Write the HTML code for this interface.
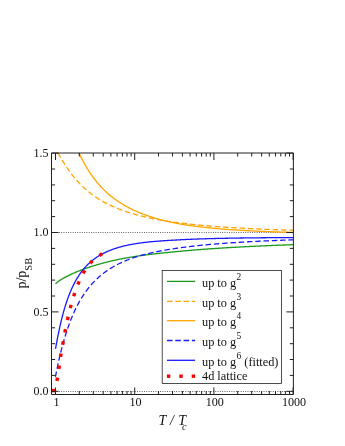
<!DOCTYPE html>
<html><head><meta charset="utf-8"><title>plot</title>
<style>html,body{margin:0;padding:0;background:#fff;}body{width:345px;height:446px;position:relative;overflow:hidden;font-family:"Liberation Serif",serif;}</style></head>
<body>
<svg width="345" height="446" viewBox="0 0 345 446" style="position:absolute;left:0;top:0;will-change:transform">
<defs><clipPath id="c"><rect x="51.5" y="153.0" width="241.9" height="241.5"/></clipPath></defs>
<line x1="52" y1="391.5" x2="293.4" y2="391.5" stroke="#555" stroke-width="1" stroke-dasharray="0.9 1.4"/>
<line x1="52" y1="232.5" x2="293.4" y2="232.5" stroke="#555" stroke-width="1" stroke-dasharray="0.9 1.4"/>
<g clip-path="url(#c)" fill="none" stroke-width="1.3">
<path d="M55.5,283.80 L56.0,283.34 L56.5,282.90 L57.0,282.48 L57.5,282.08 L58.0,281.69 L58.5,281.32 L59.0,280.97 L59.5,280.62 L60.0,280.29 L60.5,279.96 L61.0,279.65 L61.5,279.34 L62.0,279.03 L62.5,278.74 L63.0,278.45 L63.5,278.17 L64.0,277.89 L64.5,277.61 L65.0,277.34 L65.5,277.08 L66.0,276.81 L66.5,276.55 L67.0,276.30 L67.5,276.05 L68.0,275.80 L68.5,275.55 L69.0,275.31 L69.5,275.07 L70.0,274.83 L70.5,274.60 L71.0,274.36 L71.5,274.13 L72.0,273.91 L72.5,273.68 L73.0,273.46 L73.5,273.23 L74.0,273.01 L74.5,272.80 L75.0,272.58 L75.5,272.37 L76.0,272.16 L76.5,271.95 L77.0,271.74 L77.5,271.53 L78.0,271.33 L78.5,271.13 L79.0,270.93 L79.5,270.73 L80.0,270.53 L80.5,270.34 L81.0,270.14 L81.5,269.95 L82.0,269.76 L82.5,269.57 L83.0,269.39 L83.5,269.20 L84.0,269.02 L84.5,268.84 L85.0,268.66 L85.5,268.48 L86.0,268.30 L86.5,268.12 L87.0,267.95 L87.5,267.78 L88.0,267.60 L88.5,267.43 L89.0,267.27 L89.5,267.10 L90.0,266.93 L90.5,266.77 L91.0,266.61 L91.5,266.45 L92.0,266.28 L92.5,266.13 L93.0,265.97 L93.5,265.81 L94.0,265.66 L94.5,265.50 L95.0,265.35 L95.5,265.20 L96.0,265.05 L96.5,264.90 L97.0,264.76 L97.5,264.61 L98.0,264.47 L98.5,264.32 L99.0,264.18 L99.5,264.04 L100.0,263.90 L100.5,263.76 L101.0,263.62 L101.5,263.49 L102.0,263.35 L102.5,263.22 L103.0,263.08 L103.5,262.95 L104.0,262.82 L104.5,262.69 L105.0,262.56 L105.5,262.43 L106.0,262.30 L106.5,262.18 L107.0,262.05 L107.5,261.93 L108.0,261.81 L108.5,261.68 L109.0,261.56 L109.5,261.44 L110.0,261.32 L110.5,261.21 L111.0,261.09 L111.5,260.97 L112.0,260.86 L112.5,260.74 L113.0,260.63 L113.5,260.52 L114.0,260.41 L114.5,260.29 L115.0,260.18 L115.5,260.07 L116.0,259.97 L116.5,259.86 L117.0,259.75 L117.5,259.65 L118.0,259.54 L118.5,259.44 L119.0,259.33 L119.5,259.23 L120.0,259.13 L120.5,259.03 L121.0,258.93 L121.5,258.83 L122.0,258.73 L122.5,258.63 L123.0,258.53 L123.5,258.44 L124.0,258.34 L124.5,258.25 L125.0,258.16 L125.5,258.07 L126.0,257.97 L126.5,257.88 L127.0,257.79 L127.5,257.71 L128.0,257.62 L128.5,257.53 L129.0,257.44 L129.5,257.36 L130.0,257.27 L130.5,257.19 L131.0,257.11 L131.5,257.02 L132.0,256.94 L132.5,256.86 L133.0,256.78 L133.5,256.70 L134.0,256.62 L134.5,256.54 L135.0,256.47 L135.5,256.39 L136.0,256.31 L136.5,256.24 L137.0,256.16 L137.5,256.09 L138.0,256.01 L138.5,255.94 L139.0,255.87 L139.5,255.80 L140.0,255.73 L140.5,255.65 L141.0,255.58 L141.5,255.51 L142.0,255.45 L142.5,255.38 L143.0,255.31 L143.5,255.24 L144.0,255.18 L144.5,255.11 L145.0,255.04 L145.5,254.98 L146.0,254.91 L146.5,254.85 L147.0,254.78 L147.5,254.72 L148.0,254.66 L148.5,254.60 L149.0,254.53 L149.5,254.47 L150.0,254.41 L150.5,254.35 L151.0,254.29 L151.5,254.23 L152.0,254.17 L152.5,254.11 L153.0,254.05 L153.5,253.99 L154.0,253.94 L154.5,253.88 L155.0,253.82 L155.5,253.76 L156.0,253.71 L156.5,253.65 L157.0,253.60 L157.5,253.54 L158.0,253.49 L158.5,253.43 L159.0,253.38 L159.5,253.32 L160.0,253.27 L160.5,253.21 L161.0,253.16 L161.5,253.11 L162.0,253.05 L162.5,253.00 L163.0,252.95 L163.5,252.90 L164.0,252.85 L164.5,252.79 L165.0,252.74 L165.5,252.69 L166.0,252.64 L166.5,252.59 L167.0,252.54 L167.5,252.49 L168.0,252.44 L168.5,252.39 L169.0,252.34 L169.5,252.29 L170.0,252.24 L170.5,252.19 L171.0,252.14 L171.5,252.09 L172.0,252.04 L172.5,252.00 L173.0,251.95 L173.5,251.90 L174.0,251.85 L174.5,251.80 L175.0,251.75 L175.5,251.71 L176.0,251.66 L176.5,251.61 L177.0,251.56 L177.5,251.51 L178.0,251.47 L178.5,251.42 L179.0,251.37 L179.5,251.32 L180.0,251.28 L180.5,251.23 L181.0,251.18 L181.5,251.14 L182.0,251.09 L182.5,251.04 L183.0,251.00 L183.5,250.95 L184.0,250.91 L184.5,250.86 L185.0,250.82 L185.5,250.77 L186.0,250.73 L186.5,250.68 L187.0,250.64 L187.5,250.60 L188.0,250.55 L188.5,250.51 L189.0,250.47 L189.5,250.42 L190.0,250.38 L190.5,250.34 L191.0,250.30 L191.5,250.25 L192.0,250.21 L192.5,250.17 L193.0,250.13 L193.5,250.09 L194.0,250.05 L194.5,250.01 L195.0,249.97 L195.5,249.93 L196.0,249.89 L196.5,249.85 L197.0,249.81 L197.5,249.77 L198.0,249.73 L198.5,249.69 L199.0,249.65 L199.5,249.61 L200.0,249.57 L200.5,249.53 L201.0,249.49 L201.5,249.46 L202.0,249.42 L202.5,249.38 L203.0,249.34 L203.5,249.31 L204.0,249.27 L204.5,249.23 L205.0,249.20 L205.5,249.16 L206.0,249.12 L206.5,249.09 L207.0,249.05 L207.5,249.01 L208.0,248.98 L208.5,248.94 L209.0,248.91 L209.5,248.87 L210.0,248.84 L210.5,248.80 L211.0,248.77 L211.5,248.73 L212.0,248.70 L212.5,248.67 L213.0,248.63 L213.5,248.60 L214.0,248.56 L214.5,248.53 L215.0,248.50 L215.5,248.46 L216.0,248.43 L216.5,248.40 L217.0,248.36 L217.5,248.33 L218.0,248.30 L218.5,248.27 L219.0,248.23 L219.5,248.20 L220.0,248.17 L220.5,248.14 L221.0,248.11 L221.5,248.08 L222.0,248.04 L222.5,248.01 L223.0,247.98 L223.5,247.95 L224.0,247.92 L224.5,247.89 L225.0,247.86 L225.5,247.83 L226.0,247.80 L226.5,247.77 L227.0,247.74 L227.5,247.71 L228.0,247.68 L228.5,247.65 L229.0,247.62 L229.5,247.59 L230.0,247.56 L230.5,247.53 L231.0,247.50 L231.5,247.47 L232.0,247.44 L232.5,247.42 L233.0,247.39 L233.5,247.36 L234.0,247.33 L234.5,247.30 L235.0,247.27 L235.5,247.25 L236.0,247.22 L236.5,247.19 L237.0,247.16 L237.5,247.14 L238.0,247.11 L238.5,247.08 L239.0,247.05 L239.5,247.03 L240.0,247.00 L240.5,246.97 L241.0,246.95 L241.5,246.92 L242.0,246.89 L242.5,246.87 L243.0,246.84 L243.5,246.82 L244.0,246.79 L244.5,246.76 L245.0,246.74 L245.5,246.71 L246.0,246.69 L246.5,246.66 L247.0,246.64 L247.5,246.61 L248.0,246.59 L248.5,246.56 L249.0,246.54 L249.5,246.51 L250.0,246.49 L250.5,246.46 L251.0,246.44 L251.5,246.41 L252.0,246.39 L252.5,246.36 L253.0,246.34 L253.5,246.31 L254.0,246.29 L254.5,246.27 L255.0,246.24 L255.5,246.22 L256.0,246.20 L256.5,246.17 L257.0,246.15 L257.5,246.13 L258.0,246.10 L258.5,246.08 L259.0,246.06 L259.5,246.03 L260.0,246.01 L260.5,245.99 L261.0,245.96 L261.5,245.94 L262.0,245.92 L262.5,245.90 L263.0,245.87 L263.5,245.85 L264.0,245.83 L264.5,245.81 L265.0,245.79 L265.5,245.76 L266.0,245.74 L266.5,245.72 L267.0,245.70 L267.5,245.68 L268.0,245.65 L268.5,245.63 L269.0,245.61 L269.5,245.59 L270.0,245.57 L270.5,245.55 L271.0,245.53 L271.5,245.51 L272.0,245.48 L272.5,245.46 L273.0,245.44 L273.5,245.42 L274.0,245.40 L274.5,245.38 L275.0,245.36 L275.5,245.34 L276.0,245.32 L276.5,245.30 L277.0,245.28 L277.5,245.26 L278.0,245.24 L278.5,245.22 L279.0,245.20 L279.5,245.18 L280.0,245.16 L280.5,245.14 L281.0,245.12 L281.5,245.10 L282.0,245.08 L282.5,245.06 L283.0,245.04 L283.5,245.02 L284.0,245.00 L284.5,244.98 L285.0,244.97 L285.5,244.95 L286.0,244.93 L286.5,244.91 L287.0,244.89 L287.5,244.87 L288.0,244.85 L288.5,244.83 L289.0,244.82 L289.5,244.80 L290.0,244.78 L290.5,244.76 L291.0,244.74 L291.5,244.72 L292.0,244.71 L292.5,244.69 L293.0,244.67" stroke="#1a9a1a"/>
<path d="M57.0,150.79 L57.5,151.74 L58.0,152.68 L58.5,153.61 L59.0,154.53 L59.5,155.44 L60.0,156.34 L60.5,157.22 L61.0,158.10 L61.5,158.96 L62.0,159.82 L62.5,160.66 L63.0,161.49 L63.5,162.31 L64.0,163.12 L64.5,163.92 L65.0,164.71 L65.5,165.48 L66.0,166.25 L66.5,167.01 L67.0,167.75 L67.5,168.49 L68.0,169.21 L68.5,169.93 L69.0,170.64 L69.5,171.33 L70.0,172.02 L70.5,172.69 L71.0,173.36 L71.5,174.02 L72.0,174.67 L72.5,175.30 L73.0,175.94 L73.5,176.56 L74.0,177.17 L74.5,177.77 L75.0,178.37 L75.5,178.96 L76.0,179.54 L76.5,180.11 L77.0,180.67 L77.5,181.23 L78.0,181.77 L78.5,182.31 L79.0,182.85 L79.5,183.37 L80.0,183.89 L80.5,184.40 L81.0,184.90 L81.5,185.40 L82.0,185.89 L82.5,186.37 L83.0,186.85 L83.5,187.32 L84.0,187.78 L84.5,188.24 L85.0,188.69 L85.5,189.14 L86.0,189.58 L86.5,190.01 L87.0,190.44 L87.5,190.86 L88.0,191.28 L88.5,191.69 L89.0,192.09 L89.5,192.49 L90.0,192.89 L90.5,193.28 L91.0,193.66 L91.5,194.04 L92.0,194.41 L92.5,194.78 L93.0,195.15 L93.5,195.51 L94.0,195.86 L94.5,196.21 L95.0,196.56 L95.5,196.90 L96.0,197.24 L96.5,197.57 L97.0,197.90 L97.5,198.23 L98.0,198.55 L98.5,198.87 L99.0,199.18 L99.5,199.49 L100.0,199.79 L100.5,200.09 L101.0,200.39 L101.5,200.69 L102.0,200.98 L102.5,201.26 L103.0,201.55 L103.5,201.83 L104.0,202.10 L104.5,202.38 L105.0,202.65 L105.5,202.91 L106.0,203.18 L106.5,203.44 L107.0,203.70 L107.5,203.95 L108.0,204.20 L108.5,204.45 L109.0,204.70 L109.5,204.94 L110.0,205.18 L110.5,205.41 L111.0,205.65 L111.5,205.88 L112.0,206.11 L112.5,206.34 L113.0,206.56 L113.5,206.78 L114.0,207.00 L114.5,207.22 L115.0,207.43 L115.5,207.64 L116.0,207.85 L116.5,208.06 L117.0,208.26 L117.5,208.46 L118.0,208.66 L118.5,208.86 L119.0,209.06 L119.5,209.25 L120.0,209.44 L120.5,209.63 L121.0,209.82 L121.5,210.00 L122.0,210.19 L122.5,210.37 L123.0,210.55 L123.5,210.73 L124.0,210.90 L124.5,211.08 L125.0,211.25 L125.5,211.42 L126.0,211.59 L126.5,211.75 L127.0,211.92 L127.5,212.08 L128.0,212.24 L128.5,212.41 L129.0,212.56 L129.5,212.72 L130.0,212.88 L130.5,213.03 L131.0,213.18 L131.5,213.33 L132.0,213.48 L132.5,213.63 L133.0,213.78 L133.5,213.92 L134.0,214.07 L134.5,214.21 L135.0,214.35 L135.5,214.49 L136.0,214.63 L136.5,214.76 L137.0,214.90 L137.5,215.03 L138.0,215.17 L138.5,215.30 L139.0,215.43 L139.5,215.56 L140.0,215.69 L140.5,215.81 L141.0,215.94 L141.5,216.06 L142.0,216.19 L142.5,216.31 L143.0,216.43 L143.5,216.55 L144.0,216.67 L144.5,216.78 L145.0,216.90 L145.5,217.02 L146.0,217.13 L146.5,217.24 L147.0,217.36 L147.5,217.47 L148.0,217.58 L148.5,217.69 L149.0,217.80 L149.5,217.90 L150.0,218.01 L150.5,218.12 L151.0,218.22 L151.5,218.32 L152.0,218.43 L152.5,218.53 L153.0,218.63 L153.5,218.73 L154.0,218.83 L154.5,218.93 L155.0,219.02 L155.5,219.12 L156.0,219.21 L156.5,219.31 L157.0,219.40 L157.5,219.50 L158.0,219.59 L158.5,219.68 L159.0,219.77 L159.5,219.86 L160.0,219.95 L160.5,220.04 L161.0,220.13 L161.5,220.21 L162.0,220.30 L162.5,220.38 L163.0,220.47 L163.5,220.55 L164.0,220.64 L164.5,220.72 L165.0,220.80 L165.5,220.88 L166.0,220.96 L166.5,221.04 L167.0,221.12 L167.5,221.20 L168.0,221.28 L168.5,221.35 L169.0,221.43 L169.5,221.51 L170.0,221.58 L170.5,221.66 L171.0,221.73 L171.5,221.80 L172.0,221.88 L172.5,221.95 L173.0,222.02 L173.5,222.09 L174.0,222.16 L174.5,222.23 L175.0,222.30 L175.5,222.37 L176.0,222.44 L176.5,222.50 L177.0,222.57 L177.5,222.64 L178.0,222.70 L178.5,222.77 L179.0,222.83 L179.5,222.90 L180.0,222.96 L180.5,223.02 L181.0,223.08 L181.5,223.15 L182.0,223.21 L182.5,223.27 L183.0,223.33 L183.5,223.39 L184.0,223.45 L184.5,223.51 L185.0,223.57 L185.5,223.63 L186.0,223.68 L186.5,223.74 L187.0,223.80 L187.5,223.85 L188.0,223.91 L188.5,223.97 L189.0,224.02 L189.5,224.08 L190.0,224.13 L190.5,224.18 L191.0,224.24 L191.5,224.29 L192.0,224.34 L192.5,224.40 L193.0,224.45 L193.5,224.50 L194.0,224.55 L194.5,224.60 L195.0,224.65 L195.5,224.70 L196.0,224.75 L196.5,224.80 L197.0,224.85 L197.5,224.90 L198.0,224.95 L198.5,225.00 L199.0,225.05 L199.5,225.09 L200.0,225.14 L200.5,225.19 L201.0,225.23 L201.5,225.28 L202.0,225.33 L202.5,225.37 L203.0,225.42 L203.5,225.46 L204.0,225.51 L204.5,225.55 L205.0,225.60 L205.5,225.64 L206.0,225.68 L206.5,225.73 L207.0,225.77 L207.5,225.81 L208.0,225.85 L208.5,225.89 L209.0,225.94 L209.5,225.98 L210.0,226.02 L210.5,226.06 L211.0,226.10 L211.5,226.14 L212.0,226.18 L212.5,226.22 L213.0,226.26 L213.5,226.30 L214.0,226.34 L214.5,226.38 L215.0,226.41 L215.5,226.45 L216.0,226.49 L216.5,226.53 L217.0,226.57 L217.5,226.60 L218.0,226.64 L218.5,226.68 L219.0,226.71 L219.5,226.75 L220.0,226.78 L220.5,226.82 L221.0,226.86 L221.5,226.89 L222.0,226.93 L222.5,226.96 L223.0,227.00 L223.5,227.03 L224.0,227.06 L224.5,227.10 L225.0,227.13 L225.5,227.17 L226.0,227.20 L226.5,227.23 L227.0,227.26 L227.5,227.30 L228.0,227.33 L228.5,227.36 L229.0,227.39 L229.5,227.43 L230.0,227.46 L230.5,227.49 L231.0,227.52 L231.5,227.55 L232.0,227.58 L232.5,227.61 L233.0,227.64 L233.5,227.67 L234.0,227.70 L234.5,227.73 L235.0,227.76 L235.5,227.79 L236.0,227.82 L236.5,227.85 L237.0,227.88 L237.5,227.91 L238.0,227.94 L238.5,227.97 L239.0,228.00 L239.5,228.02 L240.0,228.05 L240.5,228.08 L241.0,228.11 L241.5,228.13 L242.0,228.16 L242.5,228.19 L243.0,228.22 L243.5,228.24 L244.0,228.27 L244.5,228.30 L245.0,228.32 L245.5,228.35 L246.0,228.37 L246.5,228.40 L247.0,228.43 L247.5,228.45 L248.0,228.48 L248.5,228.50 L249.0,228.53 L249.5,228.55 L250.0,228.58 L250.5,228.60 L251.0,228.63 L251.5,228.65 L252.0,228.68 L252.5,228.70 L253.0,228.72 L253.5,228.75 L254.0,228.77 L254.5,228.80 L255.0,228.82 L255.5,228.84 L256.0,228.87 L256.5,228.89 L257.0,228.91 L257.5,228.94 L258.0,228.96 L258.5,228.98 L259.0,229.00 L259.5,229.03 L260.0,229.05 L260.5,229.07 L261.0,229.09 L261.5,229.11 L262.0,229.14 L262.5,229.16 L263.0,229.18 L263.5,229.20 L264.0,229.22 L264.5,229.24 L265.0,229.26 L265.5,229.28 L266.0,229.31 L266.5,229.33 L267.0,229.35 L267.5,229.37 L268.0,229.39 L268.5,229.41 L269.0,229.43 L269.5,229.45 L270.0,229.47 L270.5,229.49 L271.0,229.51 L271.5,229.53 L272.0,229.55 L272.5,229.57 L273.0,229.59 L273.5,229.60 L274.0,229.62 L274.5,229.64 L275.0,229.66 L275.5,229.68 L276.0,229.70 L276.5,229.72 L277.0,229.74 L277.5,229.75 L278.0,229.77 L278.5,229.79 L279.0,229.81 L279.5,229.83 L280.0,229.85 L280.5,229.86 L281.0,229.88 L281.5,229.90 L282.0,229.92 L282.5,229.93 L283.0,229.95 L283.5,229.97 L284.0,229.99 L284.5,230.00 L285.0,230.02 L285.5,230.04 L286.0,230.05 L286.5,230.07 L287.0,230.09 L287.5,230.10 L288.0,230.12 L288.5,230.14 L289.0,230.15 L289.5,230.17 L290.0,230.19 L290.5,230.20 L291.0,230.22 L291.5,230.23 L292.0,230.25 L292.5,230.26 L293.0,230.28" stroke="#ffa500" stroke-dasharray="5.5 2.8" stroke-dashoffset="6.08"/>
<path d="M78.0,150.73 L78.5,151.84 L79.0,152.94 L79.5,154.01 L80.0,155.07 L80.5,156.10 L81.0,157.12 L81.5,158.13 L82.0,159.11 L82.5,160.08 L83.0,161.03 L83.5,161.97 L84.0,162.89 L84.5,163.79 L85.0,164.68 L85.5,165.56 L86.0,166.42 L86.5,167.26 L87.0,168.10 L87.5,168.92 L88.0,169.72 L88.5,170.51 L89.0,171.30 L89.5,172.06 L90.0,172.82 L90.5,173.56 L91.0,174.29 L91.5,175.02 L92.0,175.72 L92.5,176.42 L93.0,177.11 L93.5,177.79 L94.0,178.45 L94.5,179.11 L95.0,179.76 L95.5,180.39 L96.0,181.02 L96.5,181.64 L97.0,182.25 L97.5,182.85 L98.0,183.44 L98.5,184.02 L99.0,184.59 L99.5,185.16 L100.0,185.71 L100.5,186.26 L101.0,186.80 L101.5,187.33 L102.0,187.86 L102.5,188.38 L103.0,188.88 L103.5,189.39 L104.0,189.88 L104.5,190.37 L105.0,190.85 L105.5,191.33 L106.0,191.80 L106.5,192.26 L107.0,192.71 L107.5,193.16 L108.0,193.61 L108.5,194.04 L109.0,194.47 L109.5,194.90 L110.0,195.32 L110.5,195.73 L111.0,196.14 L111.5,196.54 L112.0,196.94 L112.5,197.33 L113.0,197.72 L113.5,198.10 L114.0,198.47 L114.5,198.84 L115.0,199.21 L115.5,199.57 L116.0,199.93 L116.5,200.28 L117.0,200.63 L117.5,200.97 L118.0,201.31 L118.5,201.65 L119.0,201.98 L119.5,202.30 L120.0,202.62 L120.5,202.94 L121.0,203.26 L121.5,203.57 L122.0,203.87 L122.5,204.18 L123.0,204.48 L123.5,204.77 L124.0,205.06 L124.5,205.35 L125.0,205.64 L125.5,205.92 L126.0,206.20 L126.5,206.48 L127.0,206.75 L127.5,207.02 L128.0,207.29 L128.5,207.55 L129.0,207.81 L129.5,208.07 L130.0,208.33 L130.5,208.58 L131.0,208.83 L131.5,209.08 L132.0,209.32 L132.5,209.56 L133.0,209.80 L133.5,210.04 L134.0,210.27 L134.5,210.50 L135.0,210.73 L135.5,210.96 L136.0,211.18 L136.5,211.40 L137.0,211.62 L137.5,211.84 L138.0,212.05 L138.5,212.26 L139.0,212.47 L139.5,212.68 L140.0,212.89 L140.5,213.09 L141.0,213.29 L141.5,213.49 L142.0,213.69 L142.5,213.88 L143.0,214.07 L143.5,214.26 L144.0,214.45 L144.5,214.64 L145.0,214.83 L145.5,215.01 L146.0,215.19 L146.5,215.37 L147.0,215.55 L147.5,215.72 L148.0,215.90 L148.5,216.07 L149.0,216.24 L149.5,216.41 L150.0,216.57 L150.5,216.74 L151.0,216.90 L151.5,217.06 L152.0,217.22 L152.5,217.38 L153.0,217.54 L153.5,217.69 L154.0,217.85 L154.5,218.00 L155.0,218.15 L155.5,218.30 L156.0,218.44 L156.5,218.59 L157.0,218.73 L157.5,218.88 L158.0,219.02 L158.5,219.16 L159.0,219.30 L159.5,219.43 L160.0,219.57 L160.5,219.70 L161.0,219.84 L161.5,219.97 L162.0,220.10 L162.5,220.23 L163.0,220.35 L163.5,220.48 L164.0,220.60 L164.5,220.73 L165.0,220.85 L165.5,220.97 L166.0,221.09 L166.5,221.21 L167.0,221.32 L167.5,221.44 L168.0,221.55 L168.5,221.67 L169.0,221.78 L169.5,221.89 L170.0,222.00 L170.5,222.11 L171.0,222.21 L171.5,222.32 L172.0,222.42 L172.5,222.53 L173.0,222.63 L173.5,222.73 L174.0,222.83 L174.5,222.93 L175.0,223.03 L175.5,223.12 L176.0,223.22 L176.5,223.31 L177.0,223.41 L177.5,223.50 L178.0,223.59 L178.5,223.68 L179.0,223.77 L179.5,223.86 L180.0,223.94 L180.5,224.03 L181.0,224.11 L181.5,224.20 L182.0,224.28 L182.5,224.36 L183.0,224.45 L183.5,224.53 L184.0,224.61 L184.5,224.69 L185.0,224.77 L185.5,224.84 L186.0,224.92 L186.5,225.00 L187.0,225.07 L187.5,225.15 L188.0,225.22 L188.5,225.30 L189.0,225.37 L189.5,225.44 L190.0,225.51 L190.5,225.58 L191.0,225.66 L191.5,225.72 L192.0,225.79 L192.5,225.86 L193.0,225.93 L193.5,226.00 L194.0,226.06 L194.5,226.13 L195.0,226.20 L195.5,226.26 L196.0,226.32 L196.5,226.39 L197.0,226.45 L197.5,226.51 L198.0,226.58 L198.5,226.64 L199.0,226.70 L199.5,226.76 L200.0,226.82 L200.5,226.88 L201.0,226.94 L201.5,226.99 L202.0,227.05 L202.5,227.11 L203.0,227.17 L203.5,227.22 L204.0,227.28 L204.5,227.33 L205.0,227.39 L205.5,227.44 L206.0,227.50 L206.5,227.55 L207.0,227.60 L207.5,227.65 L208.0,227.71 L208.5,227.76 L209.0,227.81 L209.5,227.86 L210.0,227.91 L210.5,227.96 L211.0,228.01 L211.5,228.06 L212.0,228.11 L212.5,228.15 L213.0,228.20 L213.5,228.25 L214.0,228.29 L214.5,228.34 L215.0,228.39 L215.5,228.43 L216.0,228.48 L216.5,228.52 L217.0,228.57 L217.5,228.61 L218.0,228.65 L218.5,228.70 L219.0,228.74 L219.5,228.78 L220.0,228.82 L220.5,228.87 L221.0,228.91 L221.5,228.95 L222.0,228.99 L222.5,229.03 L223.0,229.07 L223.5,229.11 L224.0,229.15 L224.5,229.19 L225.0,229.23 L225.5,229.27 L226.0,229.30 L226.5,229.34 L227.0,229.38 L227.5,229.42 L228.0,229.45 L228.5,229.49 L229.0,229.53 L229.5,229.56 L230.0,229.60 L230.5,229.63 L231.0,229.67 L231.5,229.70 L232.0,229.74 L232.5,229.77 L233.0,229.80 L233.5,229.84 L234.0,229.87 L234.5,229.90 L235.0,229.94 L235.5,229.97 L236.0,230.00 L236.5,230.03 L237.0,230.07 L237.5,230.10 L238.0,230.13 L238.5,230.16 L239.0,230.19 L239.5,230.22 L240.0,230.25 L240.5,230.28 L241.0,230.31 L241.5,230.34 L242.0,230.37 L242.5,230.40 L243.0,230.43 L243.5,230.46 L244.0,230.48 L244.5,230.51 L245.0,230.54 L245.5,230.57 L246.0,230.59 L246.5,230.62 L247.0,230.65 L247.5,230.68 L248.0,230.70 L248.5,230.73 L249.0,230.75 L249.5,230.78 L250.0,230.81 L250.5,230.83 L251.0,230.86 L251.5,230.88 L252.0,230.91 L252.5,230.93 L253.0,230.96 L253.5,230.98 L254.0,231.00 L254.5,231.03 L255.0,231.05 L255.5,231.07 L256.0,231.10 L256.5,231.12 L257.0,231.14 L257.5,231.17 L258.0,231.19 L258.5,231.21 L259.0,231.23 L259.5,231.26 L260.0,231.28 L260.5,231.30 L261.0,231.32 L261.5,231.34 L262.0,231.36 L262.5,231.38 L263.0,231.40 L263.5,231.43 L264.0,231.45 L264.5,231.47 L265.0,231.49 L265.5,231.51 L266.0,231.53 L266.5,231.55 L267.0,231.57 L267.5,231.58 L268.0,231.60 L268.5,231.62 L269.0,231.64 L269.5,231.66 L270.0,231.68 L270.5,231.70 L271.0,231.72 L271.5,231.73 L272.0,231.75 L272.5,231.77 L273.0,231.79 L273.5,231.81 L274.0,231.82 L274.5,231.84 L275.0,231.86 L275.5,231.88 L276.0,231.89 L276.5,231.91 L277.0,231.93 L277.5,231.94 L278.0,231.96 L278.5,231.97 L279.0,231.99 L279.5,232.01 L280.0,232.02 L280.5,232.04 L281.0,232.05 L281.5,232.07 L282.0,232.09 L282.5,232.10 L283.0,232.12 L283.5,232.13 L284.0,232.15 L284.5,232.16 L285.0,232.18 L285.5,232.19 L286.0,232.20 L286.5,232.22 L287.0,232.23 L287.5,232.25 L288.0,232.26 L288.5,232.27 L289.0,232.29 L289.5,232.30 L290.0,232.32 L290.5,232.33 L291.0,232.34 L291.5,232.36 L292.0,232.37 L292.5,232.38 L293.0,232.40" stroke="#ffa500"/>
<path d="M55.4,376.89 L55.9,374.34 L56.4,371.84 L56.9,369.40 L57.4,367.01 L57.9,364.68 L58.4,362.40 L58.9,360.17 L59.4,358.00 L59.9,355.87 L60.4,353.80 L60.9,351.77 L61.4,349.79 L61.9,347.85 L62.4,345.96 L62.9,344.12 L63.4,342.31 L63.9,340.55 L64.4,338.83 L64.9,337.15 L65.4,335.50 L65.9,333.90 L66.4,332.33 L66.9,330.79 L67.4,329.29 L67.9,327.83 L68.4,326.40 L68.9,324.99 L69.4,323.62 L69.9,322.29 L70.4,320.97 L70.9,319.69 L71.4,318.44 L71.9,317.21 L72.4,316.01 L72.9,314.84 L73.4,313.69 L73.9,312.56 L74.4,311.46 L74.9,310.38 L75.4,309.33 L75.9,308.29 L76.4,307.28 L76.9,306.29 L77.4,305.32 L77.9,304.36 L78.4,303.43 L78.9,302.52 L79.4,301.62 L79.9,300.74 L80.4,299.88 L80.9,299.04 L81.4,298.21 L81.9,297.40 L82.4,296.60 L82.9,295.82 L83.4,295.06 L83.9,294.30 L84.4,293.57 L84.9,292.84 L85.4,292.13 L85.9,291.44 L86.4,290.75 L86.9,290.08 L87.4,289.42 L87.9,288.77 L88.4,288.14 L88.9,287.51 L89.4,286.90 L89.9,286.29 L90.4,285.70 L90.9,285.12 L91.4,284.55 L91.9,283.99 L92.4,283.43 L92.9,282.89 L93.4,282.36 L93.9,281.83 L94.4,281.32 L94.9,280.81 L95.4,280.31 L95.9,279.82 L96.4,279.34 L96.9,278.86 L97.4,278.40 L97.9,277.94 L98.4,277.48 L98.9,277.04 L99.4,276.60 L99.9,276.17 L100.4,275.75 L100.9,275.33 L101.4,274.92 L101.9,274.51 L102.4,274.11 L102.9,273.72 L103.4,273.34 L103.9,272.96 L104.4,272.58 L104.9,272.21 L105.4,271.85 L105.9,271.49 L106.4,271.14 L106.9,270.79 L107.4,270.45 L107.9,270.11 L108.4,269.78 L108.9,269.45 L109.4,269.12 L109.9,268.81 L110.4,268.49 L110.9,268.18 L111.4,267.88 L111.9,267.58 L112.4,267.28 L112.9,266.99 L113.4,266.70 L113.9,266.41 L114.4,266.13 L114.9,265.85 L115.4,265.58 L115.9,265.31 L116.4,265.05 L116.9,264.78 L117.4,264.52 L117.9,264.27 L118.4,264.02 L118.9,263.77 L119.4,263.52 L119.9,263.28 L120.4,263.04 L120.9,262.80 L121.4,262.57 L121.9,262.34 L122.4,262.11 L122.9,261.89 L123.4,261.67 L123.9,261.45 L124.4,261.24 L124.9,261.02 L125.4,260.82 L125.9,260.61 L126.4,260.41 L126.9,260.20 L127.4,260.01 L127.9,259.81 L128.4,259.62 L128.9,259.42 L129.4,259.24 L129.9,259.05 L130.4,258.86 L130.9,258.68 L131.4,258.50 L131.9,258.33 L132.4,258.15 L132.9,257.98 L133.4,257.81 L133.9,257.64 L134.4,257.47 L134.9,257.31 L135.4,257.15 L135.9,256.99 L136.4,256.83 L136.9,256.67 L137.4,256.51 L137.9,256.36 L138.4,256.21 L138.9,256.06 L139.4,255.91 L139.9,255.77 L140.4,255.62 L140.9,255.48 L141.4,255.34 L141.9,255.20 L142.4,255.06 L142.9,254.93 L143.4,254.79 L143.9,254.66 L144.4,254.53 L144.9,254.40 L145.4,254.27 L145.9,254.14 L146.4,254.01 L146.9,253.89 L147.4,253.77 L147.9,253.64 L148.4,253.52 L148.9,253.40 L149.4,253.29 L149.9,253.17 L150.4,253.05 L150.9,252.94 L151.4,252.83 L151.9,252.71 L152.4,252.60 L152.9,252.49 L153.4,252.38 L153.9,252.28 L154.4,252.17 L154.9,252.06 L155.4,251.96 L155.9,251.86 L156.4,251.75 L156.9,251.65 L157.4,251.55 L157.9,251.45 L158.4,251.36 L158.9,251.26 L159.4,251.16 L159.9,251.07 L160.4,250.97 L160.9,250.88 L161.4,250.78 L161.9,250.69 L162.4,250.60 L162.9,250.51 L163.4,250.42 L163.9,250.33 L164.4,250.24 L164.9,250.16 L165.4,250.07 L165.9,249.98 L166.4,249.90 L166.9,249.81 L167.4,249.73 L167.9,249.65 L168.4,249.56 L168.9,249.48 L169.4,249.40 L169.9,249.32 L170.4,249.24 L170.9,249.16 L171.4,249.08 L171.9,249.00 L172.4,248.93 L172.9,248.85 L173.4,248.77 L173.9,248.70 L174.4,248.62 L174.9,248.55 L175.4,248.47 L175.9,248.40 L176.4,248.32 L176.9,248.25 L177.4,248.18 L177.9,248.11 L178.4,248.04 L178.9,247.96 L179.4,247.89 L179.9,247.82 L180.4,247.75 L180.9,247.68 L181.4,247.62 L181.9,247.55 L182.4,247.48 L182.9,247.41 L183.4,247.35 L183.9,247.28 L184.4,247.22 L184.9,247.15 L185.4,247.09 L185.9,247.02 L186.4,246.96 L186.9,246.90 L187.4,246.83 L187.9,246.77 L188.4,246.71 L188.9,246.65 L189.4,246.59 L189.9,246.53 L190.4,246.47 L190.9,246.41 L191.4,246.35 L191.9,246.29 L192.4,246.24 L192.9,246.18 L193.4,246.12 L193.9,246.07 L194.4,246.01 L194.9,245.95 L195.4,245.90 L195.9,245.85 L196.4,245.79 L196.9,245.74 L197.4,245.68 L197.9,245.63 L198.4,245.58 L198.9,245.53 L199.4,245.47 L199.9,245.42 L200.4,245.37 L200.9,245.32 L201.4,245.27 L201.9,245.22 L202.4,245.17 L202.9,245.12 L203.4,245.07 L203.9,245.02 L204.4,244.98 L204.9,244.93 L205.4,244.88 L205.9,244.83 L206.4,244.79 L206.9,244.74 L207.4,244.69 L207.9,244.65 L208.4,244.60 L208.9,244.56 L209.4,244.51 L209.9,244.47 L210.4,244.42 L210.9,244.38 L211.4,244.33 L211.9,244.29 L212.4,244.25 L212.9,244.20 L213.4,244.16 L213.9,244.12 L214.4,244.08 L214.9,244.04 L215.4,243.99 L215.9,243.95 L216.4,243.91 L216.9,243.87 L217.4,243.83 L217.9,243.79 L218.4,243.75 L218.9,243.71 L219.4,243.67 L219.9,243.63 L220.4,243.60 L220.9,243.56 L221.4,243.52 L221.9,243.48 L222.4,243.44 L222.9,243.41 L223.4,243.37 L223.9,243.33 L224.4,243.29 L224.9,243.26 L225.4,243.22 L225.9,243.19 L226.4,243.15 L226.9,243.11 L227.4,243.08 L227.9,243.04 L228.4,243.01 L228.9,242.97 L229.4,242.94 L229.9,242.91 L230.4,242.87 L230.9,242.84 L231.4,242.80 L231.9,242.77 L232.4,242.74 L232.9,242.70 L233.4,242.67 L233.9,242.64 L234.4,242.61 L234.9,242.57 L235.4,242.54 L235.9,242.51 L236.4,242.48 L236.9,242.45 L237.4,242.42 L237.9,242.38 L238.4,242.35 L238.9,242.32 L239.4,242.29 L239.9,242.26 L240.4,242.23 L240.9,242.20 L241.4,242.17 L241.9,242.14 L242.4,242.11 L242.9,242.08 L243.4,242.06 L243.9,242.03 L244.4,242.00 L244.9,241.97 L245.4,241.94 L245.9,241.91 L246.4,241.88 L246.9,241.86 L247.4,241.83 L247.9,241.80 L248.4,241.77 L248.9,241.75 L249.4,241.72 L249.9,241.69 L250.4,241.67 L250.9,241.64 L251.4,241.61 L251.9,241.59 L252.4,241.56 L252.9,241.53 L253.4,241.51 L253.9,241.48 L254.4,241.46 L254.9,241.43 L255.4,241.41 L255.9,241.38 L256.4,241.35 L256.9,241.33 L257.4,241.31 L257.9,241.28 L258.4,241.26 L258.9,241.23 L259.4,241.21 L259.9,241.18 L260.4,241.16 L260.9,241.14 L261.4,241.11 L261.9,241.09 L262.4,241.06 L262.9,241.04 L263.4,241.02 L263.9,240.99 L264.4,240.97 L264.9,240.95 L265.4,240.93 L265.9,240.90 L266.4,240.88 L266.9,240.86 L267.4,240.84 L267.9,240.81 L268.4,240.79 L268.9,240.77 L269.4,240.75 L269.9,240.73 L270.4,240.71 L270.9,240.68 L271.4,240.66 L271.9,240.64 L272.4,240.62 L272.9,240.60 L273.4,240.58 L273.9,240.56 L274.4,240.54 L274.9,240.52 L275.4,240.50 L275.9,240.48 L276.4,240.46 L276.9,240.43 L277.4,240.41 L277.9,240.39 L278.4,240.38 L278.9,240.36 L279.4,240.34 L279.9,240.32 L280.4,240.30 L280.9,240.28 L281.4,240.26 L281.9,240.24 L282.4,240.22 L282.9,240.20 L283.4,240.18 L283.9,240.16 L284.4,240.14 L284.9,240.13 L285.4,240.11 L285.9,240.09 L286.4,240.07 L286.9,240.05 L287.4,240.03 L287.9,240.02 L288.4,240.00 L288.9,239.98 L289.4,239.96 L289.9,239.94 L290.4,239.93 L290.9,239.91 L291.4,239.89 L291.9,239.87 L292.4,239.86 L292.9,239.84 L293.4,239.82" stroke="#1a1aff" stroke-dasharray="5.5 2.8"/>
<path d="M55.5,348.96 L56.0,346.12 L56.5,343.35 L57.0,340.66 L57.5,338.04 L58.0,335.50 L58.5,333.04 L59.0,330.64 L59.5,328.32 L60.0,326.07 L60.5,323.88 L61.0,321.76 L61.5,319.70 L62.0,317.70 L62.5,315.76 L63.0,313.88 L63.5,312.06 L64.0,310.29 L64.5,308.57 L65.0,306.90 L65.5,305.28 L66.0,303.71 L66.5,302.19 L67.0,300.71 L67.5,299.27 L68.0,297.87 L68.5,296.52 L69.0,295.20 L69.5,293.92 L70.0,292.68 L70.5,291.47 L71.0,290.29 L71.5,289.15 L72.0,288.04 L72.5,286.96 L73.0,285.91 L73.5,284.88 L74.0,283.89 L74.5,282.92 L75.0,281.98 L75.5,281.06 L76.0,280.17 L76.5,279.30 L77.0,278.45 L77.5,277.63 L78.0,276.82 L78.5,276.04 L79.0,275.27 L79.5,274.53 L80.0,273.80 L80.5,273.10 L81.0,272.41 L81.5,271.73 L82.0,271.08 L82.5,270.43 L83.0,269.81 L83.5,269.20 L84.0,268.60 L84.5,268.02 L85.0,267.45 L85.5,266.90 L86.0,266.36 L86.5,265.83 L87.0,265.31 L87.5,264.81 L88.0,264.31 L88.5,263.83 L89.0,263.36 L89.5,262.90 L90.0,262.45 L90.5,262.01 L91.0,261.58 L91.5,261.16 L92.0,260.74 L92.5,260.34 L93.0,259.95 L93.5,259.56 L94.0,259.18 L94.5,258.81 L95.0,258.45 L95.5,258.09 L96.0,257.75 L96.5,257.41 L97.0,257.07 L97.5,256.75 L98.0,256.43 L98.5,256.12 L99.0,255.81 L99.5,255.51 L100.0,255.21 L100.5,254.92 L101.0,254.64 L101.5,254.36 L102.0,254.09 L102.5,253.83 L103.0,253.56 L103.5,253.31 L104.0,253.06 L104.5,252.81 L105.0,252.57 L105.5,252.33 L106.0,252.10 L106.5,251.87 L107.0,251.64 L107.5,251.42 L108.0,251.21 L108.5,251.00 L109.0,250.79 L109.5,250.58 L110.0,250.38 L110.5,250.19 L111.0,249.99 L111.5,249.80 L112.0,249.61 L112.5,249.43 L113.0,249.25 L113.5,249.07 L114.0,248.90 L114.5,248.73 L115.0,248.56 L115.5,248.40 L116.0,248.23 L116.5,248.08 L117.0,247.92 L117.5,247.76 L118.0,247.61 L118.5,247.46 L119.0,247.32 L119.5,247.17 L120.0,247.03 L120.5,246.89 L121.0,246.76 L121.5,246.62 L122.0,246.49 L122.5,246.36 L123.0,246.24 L123.5,246.11 L124.0,245.99 L124.5,245.87 L125.0,245.75 L125.5,245.64 L126.0,245.52 L126.5,245.41 L127.0,245.30 L127.5,245.19 L128.0,245.09 L128.5,244.98 L129.0,244.88 L129.5,244.78 L130.0,244.68 L130.5,244.59 L131.0,244.49 L131.5,244.40 L132.0,244.31 L132.5,244.22 L133.0,244.13 L133.5,244.04 L134.0,243.96 L134.5,243.87 L135.0,243.79 L135.5,243.71 L136.0,243.63 L136.5,243.55 L137.0,243.47 L137.5,243.40 L138.0,243.32 L138.5,243.25 L139.0,243.18 L139.5,243.11 L140.0,243.04 L140.5,242.97 L141.0,242.90 L141.5,242.84 L142.0,242.77 L142.5,242.71 L143.0,242.65 L143.5,242.58 L144.0,242.52 L144.5,242.46 L145.0,242.41 L145.5,242.35 L146.0,242.29 L146.5,242.24 L147.0,242.18 L147.5,242.13 L148.0,242.07 L148.5,242.02 L149.0,241.97 L149.5,241.92 L150.0,241.87 L150.5,241.82 L151.0,241.77 L151.5,241.72 L152.0,241.68 L152.5,241.63 L153.0,241.59 L153.5,241.54 L154.0,241.50 L154.5,241.45 L155.0,241.41 L155.5,241.37 L156.0,241.33 L156.5,241.29 L157.0,241.25 L157.5,241.21 L158.0,241.17 L158.5,241.13 L159.0,241.09 L159.5,241.05 L160.0,241.01 L160.5,240.98 L161.0,240.94 L161.5,240.91 L162.0,240.87 L162.5,240.83 L163.0,240.80 L163.5,240.77 L164.0,240.73 L164.5,240.70 L165.0,240.67 L165.5,240.63 L166.0,240.60 L166.5,240.57 L167.0,240.54 L167.5,240.51 L168.0,240.47 L168.5,240.44 L169.0,240.41 L169.5,240.38 L170.0,240.35 L170.5,240.32 L171.0,240.29 L171.5,240.26 L172.0,240.24 L172.5,240.21 L173.0,240.18 L173.5,240.15 L174.0,240.12 L174.5,240.09 L175.0,240.07 L175.5,240.04 L176.0,240.01 L176.5,239.98 L177.0,239.96 L177.5,239.93 L178.0,239.90 L178.5,239.87 L179.0,239.85 L179.5,239.82 L180.0,239.79 L180.5,239.77 L181.0,239.74 L181.5,239.71 L182.0,239.69 L182.5,239.66 L183.0,239.64 L183.5,239.61 L184.0,239.59 L184.5,239.57 L185.0,239.54 L185.5,239.52 L186.0,239.49 L186.5,239.47 L187.0,239.45 L187.5,239.43 L188.0,239.40 L188.5,239.38 L189.0,239.36 L189.5,239.34 L190.0,239.32 L190.5,239.30 L191.0,239.27 L191.5,239.25 L192.0,239.23 L192.5,239.21 L193.0,239.19 L193.5,239.17 L194.0,239.15 L194.5,239.14 L195.0,239.12 L195.5,239.10 L196.0,239.08 L196.5,239.06 L197.0,239.04 L197.5,239.02 L198.0,239.01 L198.5,238.99 L199.0,238.97 L199.5,238.95 L200.0,238.94 L200.5,238.92 L201.0,238.90 L201.5,238.89 L202.0,238.87 L202.5,238.85 L203.0,238.84 L203.5,238.82 L204.0,238.81 L204.5,238.79 L205.0,238.78 L205.5,238.76 L206.0,238.75 L206.5,238.73 L207.0,238.72 L207.5,238.70 L208.0,238.69 L208.5,238.67 L209.0,238.66 L209.5,238.65 L210.0,238.63 L210.5,238.62 L211.0,238.60 L211.5,238.59 L212.0,238.58 L212.5,238.57 L213.0,238.55 L213.5,238.54 L214.0,238.53 L214.5,238.51 L215.0,238.50 L215.5,238.49 L216.0,238.48 L216.5,238.47 L217.0,238.45 L217.5,238.44 L218.0,238.43 L218.5,238.42 L219.0,238.41 L219.5,238.40 L220.0,238.39 L220.5,238.37 L221.0,238.36 L221.5,238.35 L222.0,238.34 L222.5,238.33 L223.0,238.32 L223.5,238.31 L224.0,238.30 L224.5,238.29 L225.0,238.28 L225.5,238.27 L226.0,238.26 L226.5,238.25 L227.0,238.24 L227.5,238.23 L228.0,238.22 L228.5,238.21 L229.0,238.20 L229.5,238.20 L230.0,238.19 L230.5,238.18 L231.0,238.17 L231.5,238.16 L232.0,238.15 L232.5,238.14 L233.0,238.13 L233.5,238.13 L234.0,238.12 L234.5,238.11 L235.0,238.10 L235.5,238.09 L236.0,238.09 L236.5,238.08 L237.0,238.07 L237.5,238.06 L238.0,238.05 L238.5,238.05 L239.0,238.04 L239.5,238.03 L240.0,238.02 L240.5,238.02 L241.0,238.01 L241.5,238.00 L242.0,238.00 L242.5,237.99 L243.0,237.98 L243.5,237.97 L244.0,237.97 L244.5,237.96 L245.0,237.95 L245.5,237.95 L246.0,237.94 L246.5,237.94 L247.0,237.93 L247.5,237.92 L248.0,237.92 L248.5,237.91 L249.0,237.90 L249.5,237.90 L250.0,237.89 L250.5,237.89 L251.0,237.88 L251.5,237.87 L252.0,237.87 L252.5,237.86 L253.0,237.86 L253.5,237.85 L254.0,237.85 L254.5,237.84 L255.0,237.84 L255.5,237.83 L256.0,237.82 L256.5,237.82 L257.0,237.81 L257.5,237.81 L258.0,237.80 L258.5,237.80 L259.0,237.79 L259.5,237.79 L260.0,237.78 L260.5,237.78 L261.0,237.77 L261.5,237.77 L262.0,237.76 L262.5,237.76 L263.0,237.76 L263.5,237.75 L264.0,237.75 L264.5,237.74 L265.0,237.74 L265.5,237.73 L266.0,237.73 L266.5,237.72 L267.0,237.72 L267.5,237.72 L268.0,237.71 L268.5,237.71 L269.0,237.70 L269.5,237.70 L270.0,237.70 L270.5,237.69 L271.0,237.69 L271.5,237.68 L272.0,237.68 L272.5,237.68 L273.0,237.67 L273.5,237.67 L274.0,237.67 L274.5,237.66 L275.0,237.66 L275.5,237.65 L276.0,237.65 L276.5,237.65 L277.0,237.64 L277.5,237.64 L278.0,237.64 L278.5,237.63 L279.0,237.63 L279.5,237.63 L280.0,237.62 L280.5,237.62 L281.0,237.62 L281.5,237.61 L282.0,237.61 L282.5,237.61 L283.0,237.61 L283.5,237.60 L284.0,237.60 L284.5,237.60 L285.0,237.59 L285.5,237.59 L286.0,237.59 L286.5,237.59 L287.0,237.58 L287.5,237.58 L288.0,237.58 L288.5,237.57 L289.0,237.57 L289.5,237.57 L290.0,237.57 L290.5,237.56 L291.0,237.56 L291.5,237.56 L292.0,237.56 L292.5,237.55 L293.0,237.55" stroke="#1a1aff"/>
</g>
<rect x="-1.7" y="-1.7" width="3.4" height="3.4" fill="#ff0000" transform="translate(53.3,390.6) rotate(0)"/>
<rect x="-1.7" y="-1.7" width="3.4" height="3.4" fill="#ff0000" transform="translate(57.2,379.3) rotate(-81)"/>
<rect x="-1.7" y="-1.7" width="3.4" height="3.4" fill="#ff0000" transform="translate(59.1,367.2) rotate(-82)"/>
<rect x="-1.7" y="-1.7" width="3.4" height="3.4" fill="#ff0000" transform="translate(60.8,355.2) rotate(-81)"/>
<rect x="-1.7" y="-1.7" width="3.4" height="3.4" fill="#ff0000" transform="translate(63.0,343.0) rotate(-80)"/>
<rect x="-1.7" y="-1.7" width="3.4" height="3.4" fill="#ff0000" transform="translate(65.2,330.8) rotate(-79)"/>
<rect x="-1.7" y="-1.7" width="3.4" height="3.4" fill="#ff0000" transform="translate(67.8,318.4) rotate(-77)"/>
<rect x="-1.7" y="-1.7" width="3.4" height="3.4" fill="#ff0000" transform="translate(70.7,306.5) rotate(-75)"/>
<rect x="-1.7" y="-1.7" width="3.4" height="3.4" fill="#ff0000" transform="translate(74.2,294.6) rotate(-72)"/>
<rect x="-1.7" y="-1.7" width="3.4" height="3.4" fill="#ff0000" transform="translate(78.5,282.9) rotate(-67)"/>
<rect x="-1.7" y="-1.7" width="3.4" height="3.4" fill="#ff0000" transform="translate(83.9,271.9) rotate(-59)"/>
<rect x="-1.7" y="-1.7" width="3.4" height="3.4" fill="#ff0000" transform="translate(91.3,262.0) rotate(-46)"/>
<rect x="-1.7" y="-1.7" width="3.4" height="3.4" fill="#ff0000" transform="translate(100.8,254.6) rotate(-38)"/>
<path d="M51.5,153.0 H293.4 V394.5 H51.5 Z M51.5,391.3 h7 M293.4,391.3 h-7 M51.5,375.4 h3.6 M293.4,375.4 h-3.6 M51.5,359.5 h3.6 M293.4,359.5 h-3.6 M51.5,343.7 h3.6 M293.4,343.7 h-3.6 M51.5,327.8 h3.6 M293.4,327.8 h-3.6 M51.5,311.9 h7 M293.4,311.9 h-7 M51.5,296.0 h3.6 M293.4,296.0 h-3.6 M51.5,280.1 h3.6 M293.4,280.1 h-3.6 M51.5,264.3 h3.6 M293.4,264.3 h-3.6 M51.5,248.4 h3.6 M293.4,248.4 h-3.6 M51.5,232.5 h7 M293.4,232.5 h-7 M51.5,216.6 h3.6 M293.4,216.6 h-3.6 M51.5,200.7 h3.6 M293.4,200.7 h-3.6 M51.5,184.9 h3.6 M293.4,184.9 h-3.6 M51.5,169.0 h3.6 M293.4,169.0 h-3.6 M51.5,153.1 h7 M293.4,153.1 h-7 M55.5,394.5 v-7 M55.5,153.0 v7 M79.3,394.5 v-3.5 M79.3,153.0 v3.5 M93.3,394.5 v-3.5 M93.3,153.0 v3.5 M103.2,394.5 v-3.5 M103.2,153.0 v3.5 M110.9,394.5 v-3.5 M110.9,153.0 v3.5 M117.1,394.5 v-3.5 M117.1,153.0 v3.5 M122.4,394.5 v-3.5 M122.4,153.0 v3.5 M127.0,394.5 v-3.5 M127.0,153.0 v3.5 M131.1,394.5 v-3.5 M131.1,153.0 v3.5 M134.7,394.5 v-7 M134.7,153.0 v7 M158.5,394.5 v-3.5 M158.5,153.0 v3.5 M172.5,394.5 v-3.5 M172.5,153.0 v3.5 M182.4,394.5 v-3.5 M182.4,153.0 v3.5 M190.1,394.5 v-3.5 M190.1,153.0 v3.5 M196.3,394.5 v-3.5 M196.3,153.0 v3.5 M201.6,394.5 v-3.5 M201.6,153.0 v3.5 M206.2,394.5 v-3.5 M206.2,153.0 v3.5 M210.3,394.5 v-3.5 M210.3,153.0 v3.5 M213.9,394.5 v-7 M213.9,153.0 v7 M237.7,394.5 v-3.5 M237.7,153.0 v3.5 M251.7,394.5 v-3.5 M251.7,153.0 v3.5 M261.6,394.5 v-3.5 M261.6,153.0 v3.5 M269.3,394.5 v-3.5 M269.3,153.0 v3.5 M275.5,394.5 v-3.5 M275.5,153.0 v3.5 M280.8,394.5 v-3.5 M280.8,153.0 v3.5 M285.4,394.5 v-3.5 M285.4,153.0 v3.5 M289.5,394.5 v-3.5 M289.5,153.0 v3.5 M293.1,394.5 v-7 M293.1,153.0 v7" fill="none" stroke="#222" stroke-width="1"/>
<rect x="162.2" y="270.4" width="119.2" height="113.1" fill="#fff" stroke="#222" stroke-width="0.8"/>
<line x1="167" y1="281.4" x2="195.1" y2="281.4" stroke="#1a9a1a" stroke-width="1.3"/>
<line x1="167" y1="301.4" x2="195.1" y2="301.4" stroke="#ffa500" stroke-width="1.3" stroke-dasharray="5.5 2.8"/>
<line x1="167" y1="320.7" x2="195.1" y2="320.7" stroke="#ffa500" stroke-width="1.3"/>
<line x1="167" y1="340.5" x2="195.1" y2="340.5" stroke="#1a1aff" stroke-width="1.3" stroke-dasharray="5.5 2.8"/>
<line x1="167" y1="360.3" x2="195.1" y2="360.3" stroke="#1a1aff" stroke-width="1.3"/>
<rect x="166.9" y="374.5" width="3.4" height="3.4" fill="#ff0000"/>
<rect x="179.3" y="374.5" width="3.4" height="3.4" fill="#ff0000"/>
<rect x="191.7" y="374.5" width="3.4" height="3.4" fill="#ff0000"/>
<text x="202.0" y="287.0" font-family="Liberation Serif, serif" font-size="12.3" fill="#111">up to g</text>
<text x="236.4" y="279.6" font-family="Liberation Serif, serif" font-size="9.4" fill="#111">2</text>
<text x="202.0" y="307.0" font-family="Liberation Serif, serif" font-size="12.3" fill="#111">up to g</text>
<text x="236.4" y="299.6" font-family="Liberation Serif, serif" font-size="9.4" fill="#111">3</text>
<text x="202.0" y="326.3" font-family="Liberation Serif, serif" font-size="12.3" fill="#111">up to g</text>
<text x="236.4" y="318.9" font-family="Liberation Serif, serif" font-size="9.4" fill="#111">4</text>
<text x="202.0" y="346.1" font-family="Liberation Serif, serif" font-size="12.3" fill="#111">up to g</text>
<text x="236.4" y="338.7" font-family="Liberation Serif, serif" font-size="9.4" fill="#111">5</text>
<text x="202.0" y="365.9" font-family="Liberation Serif, serif" font-size="12.3" fill="#111">up to g</text>
<text x="236.4" y="358.5" font-family="Liberation Serif, serif" font-size="9.4" fill="#111">6</text>
<text x="244.3" y="365.9" font-family="Liberation Serif, serif" font-size="12.3" fill="#111">(fitted)</text>
<text x="202.0" y="380.0" font-family="Liberation Serif, serif" font-size="12.3" fill="#111">4d lattice</text>
<text x="48.6" y="395.2" text-anchor="end" font-family="Liberation Serif, serif" font-size="12.0" fill="#111">0.0</text>
<text x="48.6" y="315.8" text-anchor="end" font-family="Liberation Serif, serif" font-size="12.0" fill="#111">0.5</text>
<text x="48.6" y="236.4" text-anchor="end" font-family="Liberation Serif, serif" font-size="12.0" fill="#111">1.0</text>
<text x="48.6" y="157.0" text-anchor="end" font-family="Liberation Serif, serif" font-size="12.0" fill="#111">1.5</text>
<text x="56.4" y="405.9" text-anchor="middle" font-family="Liberation Serif, serif" font-size="12.1" fill="#111">1</text>
<text x="135.6" y="405.9" text-anchor="middle" font-family="Liberation Serif, serif" font-size="12.1" fill="#111">10</text>
<text x="214.8" y="405.9" text-anchor="middle" font-family="Liberation Serif, serif" font-size="12.1" fill="#111">100</text>
<text x="294.0" y="405.9" text-anchor="middle" font-family="Liberation Serif, serif" font-size="12.1" fill="#111">1000</text>
<text x="158.4" y="424.7" font-family="Liberation Serif, serif" font-style="italic" fill="#111" font-size="14">T</text>
<text x="170.1" y="424.7" font-family="Liberation Serif, serif" font-style="italic" fill="#111" font-size="14">/</text>
<text x="178.2" y="424.7" font-family="Liberation Serif, serif" font-style="italic" fill="#111" font-size="14">T</text>
<text x="182.0" y="429.9" font-family="Liberation Serif, serif" font-style="italic" fill="#111" font-size="10.2">c</text>
<text transform="translate(26.0,288.6) rotate(-90)" font-family="Liberation Serif, serif" font-size="14" fill="#111">p/p<tspan dy="5.5" font-size="10.5">SB</tspan></text>
</svg>
</body></html>
